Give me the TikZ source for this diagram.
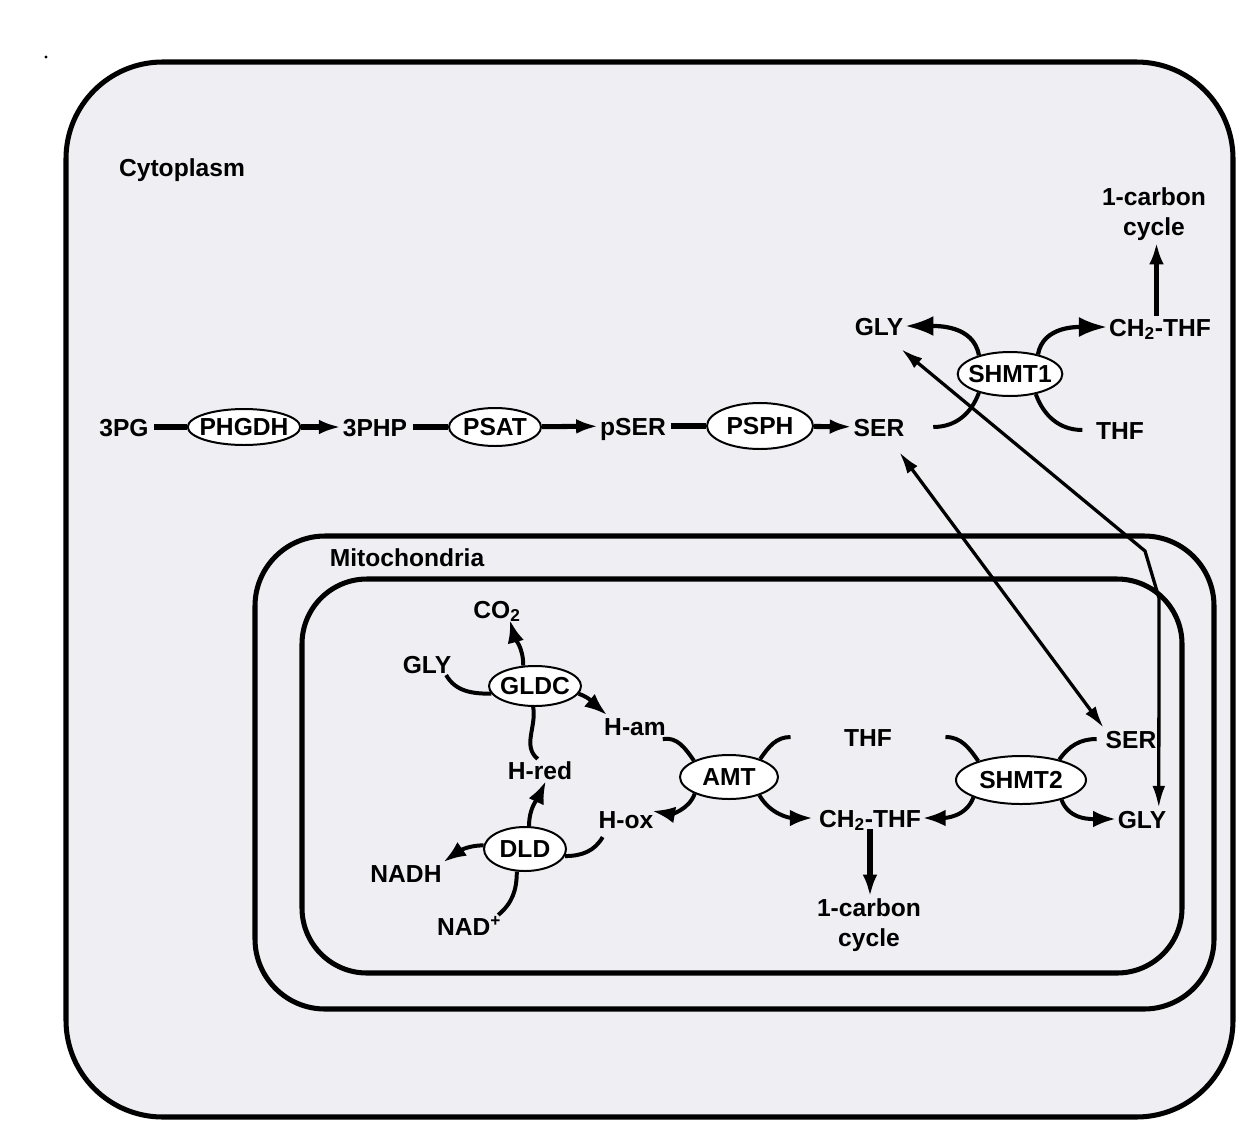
\documentclass[tikz,border=0pt]{standalone}
\usepackage{fontspec}
\setmainfont{Liberation Sans}
\usetikzlibrary{shapes.geometric,arrows.meta}
\definecolor{cellgray}{RGB}{239,238,243}
\tikzset{
  cell/.style      = { line width=4.3pt, fill=cellgray, rounded corners=2.9cm },
  mito/.style      = { line width=4.3pt, rounded corners=2.1cm },
  mitoin/.style    = { line width=4.3pt, rounded corners=1.95cm },
  enzyme/.style    = { draw, ellipse, fill=white, line width=1.7pt, inner xsep=-0.4em, inner ysep=0pt },
  metab/.style     = { inner sep=1.5pt, text height=15.5pt, text depth=0pt },
  cyclelbl/.style  = { inner sep=1.5pt, align=center },
  link/.style      = { line width=4.3pt, shorten <=3pt },
  flow/.style      = { line width=4.3pt, -{Latex[length=0.66cm,width=0.44cm]} },
  react/.style     = { line width=3.4pt },
  reactarr/.style  = { line width=3.4pt, -{Latex[length=0.68cm,width=0.5cm]} },
  reactbig/.style  = { line width=3.6pt, -{Latex[length=0.85cm,width=0.6cm]} },
  transport/.style = { line width=2.8pt, {Latex[length=0.66cm,width=0.38cm]}-{Latex[length=0.66cm,width=0.38cm]} }
}
\begin{document}
\begin{tikzpicture}[x=0.03cm,y=0.03cm,font=\fontsize{21}{25.5}\selectfont\bfseries]
  \useasboundingbox (0,0) rectangle (1238,-1123);
  % Draw compartments
  \draw[cell] (66,-62) rectangle (1233,-1117);
  \draw[mito] (255,-536) rectangle (1214,-1009);
  \draw[mitoin] (302,-579) rectangle (1182,-973);
  \fill (46,-57) circle (1.6);
  \node[metab] (cytolbl) at (182,-167) {Cytoplasm};
  \node[metab] (mitolbl) at (407,-557) {Mitochondria};
  % Draw serine synthesis
  \node[metab] (pg) at (124,-427) {3PG};
  \node[enzyme, minimum width=3.24cm, minimum height=1.08cm] (phgdh) at (244,-427) {PHGDH};
  \node[metab] (php) at (375,-427) {3PHP};
  \node[enzyme, minimum width=2.76cm, minimum height=1.14cm] (psat) at (495,-427) {PSAT};
  \node[metab] (pser) at (633,-426) {pSER};
  \node[enzyme, minimum width=3.18cm, minimum height=1.38cm] (psph) at (760,-426) {PSPH};
  \node[metab] (serc) at (879,-427) {SER};
  \draw[link] (pg) -- (phgdh);
  \draw[flow] (phgdh) -- (php);
  \draw[link] (php) -- (psat);
  \draw[flow] (psat) -- (pser);
  \draw[link] (pser) -- (psph);
  \draw[flow] (psph) -- (serc);
  % Draw SHMT1
  \node[enzyme, minimum width=3.0cm, minimum height=1.32cm] (shmta) at (1010,-374) {SHMT1};
  \node[metab] (glyc) at (879,-326) {GLY};
  \node[metab] (ch2c) at (1160,-327) {CH\textsubscript{2}-THF};
  \node[metab] (thfc) at (1120,-430) {THF};
  \node[cyclelbl] (cycc) at (1154,-214) {1-carbon\\cycle};
  \draw[reactbig] (shmta.149) to[out=100,in=0] (glyc.east);
  \draw[reactbig] (shmta.35) to[out=80,in=180] (ch2c.west);
  \draw[react] ([xshift=23]serc.east) to[out=0,in=250] (shmta.211);
  \draw[react] ([xshift=-10]thfc.west) to[out=180,in=290] (shmta.322);
  \draw[flow] ([xshift=-3]ch2c.north) -- ([xshift=-3]ch2c.north |- cycc.south);
  % Draw mitochondrial reactions
  \node[metab] (co2) at (497,-609) {CO\textsubscript{2}};
  \node[metab] (glyml) at (427,-664) {GLY};
  \node[enzyme, minimum width=2.76cm, minimum height=1.2cm] (gldc) at (535,-686) {GLDC};
  \node[metab] (ham) at (635,-726) {H-am};
  \node[metab] (hred) at (540,-770) {H-red};
  \node[enzyme, minimum width=2.94cm, minimum height=1.32cm] (amt) at (729,-777) {AMT};
  \node[metab] (hox) at (626,-819) {H-ox};
  \node[enzyme, minimum width=2.46cm, minimum height=1.32cm] (dld) at (525,-849) {DLD};
  \node[metab] (nadh) at (406,-873) {NADH};
  \node[metab] (nad) at (469,-926) {NAD\textsuperscript{+}};
  \node[metab] (thfm) at (868,-737) {THF};
  \node[metab] (ch2m) at (870,-818) {CH\textsubscript{2}-THF};
  \node[cyclelbl] (cycm) at (869,-925) {1-carbon\\cycle};
  \node[enzyme, minimum width=3.9cm, minimum height=1.44cm] (shmtb) at (1021,-780) {SHMT2};
  \node[metab] (serm) at (1131,-739) {SER};
  \node[metab] (glym) at (1142,-819) {GLY};
  \draw[react] ([xshift=-6]glyml.south east) to[out=-60,in=180] (gldc.190);
  \draw[reactarr] (gldc.120) to[out=90,in=-75] ([xshift=11]co2.south);
  \draw[reactarr] (gldc.350) to[out=-20,in=140] ([xshift=4]ham.north west);
  \draw[react] ([xshift=-2]hred.north) to[out=140,in=-80] (gldc.265);
  \draw[reactarr] (dld.80) to[out=90,in=-115] ([xshift=5]hred.south);
  \draw[reactarr] (dld.175) to[out=180,in=35] (nadh.north east);
  \draw[react] ([xshift=-4]nad.north east) to[out=40,in=-90] (dld.250);
  \draw[react] ([shift={(6,-7)}]hox.south west) to[out=-120,in=0] (dld.350);
  \draw[react] ([shift={(-5,-2)}]ham.south east) to[out=10,in=125] (amt.155);
  \draw[reactarr] (amt.206) to[out=-110,in=-10] ([shift={(-3,-3)}]hox.north east);
  \draw[react] ([xshift=-44]thfm.west) to[out=180,in=55] (amt.30);
  \draw[reactarr] (amt.329) to[out=-60,in=180] ([xshift=-4]ch2m.west);
  \draw[flow] (ch2m.south) -- (ch2m.south |- cycm.north);
  \draw[react] ([xshift=44]thfm.east) to[out=0,in=125] (shmtb.156);
  \draw[react] ([xshift=-6]serm.west) to[out=180,in=55] (shmtb.28);
  \draw[reactarr] (shmtb.200) to[out=-110,in=0] (ch2m.east);
  \draw[reactarr] (shmtb.334) to[out=-70,in=180] (glym.west);
  % Draw transport across membranes
  \coordinate (bendA) at (1145,-551);
  \coordinate (bendB) at (1159,-598);
  \draw[transport] ([shift={(-7,-14)}]serc.south east) -- (serm.north west);
  \draw[transport] ([shift={(-4,-12)}]glyc.south east) -- (bendA) -- (bendB) -- ([xshift=-8]glym.north east);
\end{tikzpicture}
\end{document}
